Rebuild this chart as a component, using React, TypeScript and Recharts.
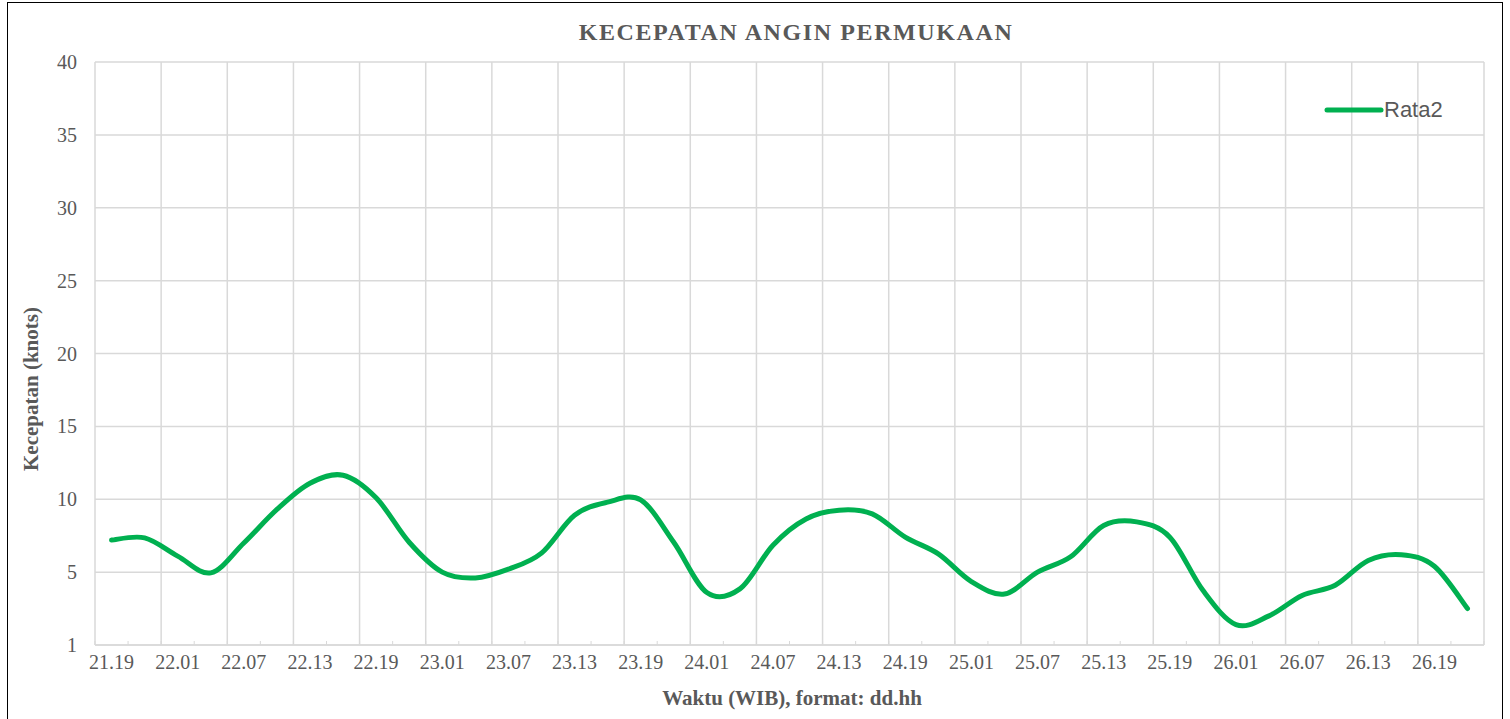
import React from 'react';
import {
  LineChart,
  Line,
  XAxis,
  YAxis,
  CartesianGrid,
  Legend,
} from 'recharts';

// ============================================================================
// Data
// ============================================================================

// time stamps every 3 hours, format dd.hh
const times = [
  '21.19', '21.22',
  '22.01', '22.04', '22.07', '22.10', '22.13', '22.16', '22.19', '22.22',
  '23.01', '23.04', '23.07', '23.10', '23.13', '23.16', '23.19', '23.22',
  '24.01', '24.04', '24.07', '24.10', '24.13', '24.16', '24.19', '24.22',
  '25.01', '25.04', '25.07', '25.10', '25.13', '25.16', '25.19', '25.22',
  '26.01', '26.04', '26.07', '26.10', '26.13', '26.16', '26.19', '26.22',
];

// Rata2 (knots)
const rata2 = [
  7.2, 7.35,
  6.1, 4.95, 7.0, 9.3, 11.1, 11.65, 10.1, 7.05,
  5.0, 4.6, 5.2, 6.3, 8.9, 9.8, 9.95, 7.05,
  3.6, 3.85, 6.85, 8.65, 9.25, 9.0, 7.4, 6.25,
  4.35, 3.5, 5.0, 6.05, 8.2, 8.45, 7.4, 3.75,
  1.4, 2.0, 3.4, 4.1, 5.8, 6.2, 5.4, 2.5,
];

const yTicks = [0, 5, 10, 15, 20, 25, 30, 35, 40];

// ============================================================================
// Constants
// ============================================================================

const SERIF = '"Liberation Serif", "Times New Roman", serif';
const SANS = '"Liberation Sans", Arial, sans-serif';
const TEXT = '#595959';
const GRID = '#d9d9d9';
const GREEN = '#00b050';

// category boundaries (tick marks) and centres (data points)
const boundaries = Array.from({ length: times.length + 1 }, (_, k) => k);
const data = times.map((time, i) => ({ time, pos: i + 0.5, rata2: rata2[i] }));

// ============================================================================
// Excel-like smoothed line (Catmull-Rom through every point)
// ============================================================================

function excelSmooth(context: any) {
  let pts: [number, number][] = [];
  return {
    areaStart() {},
    areaEnd() {},
    lineStart() {
      pts = [];
    },
    lineEnd() {
      const n = pts.length;
      if (!n) return;
      context.moveTo(pts[0][0], pts[0][1]);
      for (let i = 0; i < n - 1; i++) {
        const p0 = pts[Math.max(i - 1, 0)];
        const p1 = pts[i];
        const p2 = pts[i + 1];
        const p3 = pts[Math.min(i + 2, n - 1)];
        context.bezierCurveTo(
          p1[0] + (p2[0] - p0[0]) / 6,
          p1[1] + (p2[1] - p0[1]) / 6,
          p2[0] - (p3[0] - p1[0]) / 6,
          p2[1] - (p3[1] - p1[1]) / 6,
          p2[0],
          p2[1],
        );
      }
    },
    point(x: number, y: number) {
      pts.push([+x, +y]);
    },
  };
}

// ============================================================================
// Axis tick: small inside tick at every boundary, label every 6 hours
// ============================================================================

function TimeTick(props: any) {
  const { x, y, payload, width } = props;
  const k = payload.value as number;
  const step = width / times.length;
  const label = k % 2 === 0 && k < times.length ? times[k] : null;
  return (
    <g>
      <line x1={x} y1={y - 4} x2={x} y2={y} stroke={GRID} strokeWidth={1} />
      {label && (
        <text
          x={x + step / 2}
          y={y + 24}
          textAnchor="middle"
          fill={TEXT}
          fontSize={20}
          fontFamily={SERIF}
        >
          {label}
        </text>
      )}
    </g>
  );
}

function LegendContent() {
  return (
    <div style={{ display: 'flex', alignItems: 'center' }}>
      <svg width={60} height={10}>
        <line x1={3} y1={5} x2={57} y2={5} stroke={GREEN} strokeWidth={5} strokeLinecap="round" />
      </svg>
      <span style={{ fontFamily: SANS, fontSize: 22, color: TEXT }}>Rata2</span>
    </div>
  );
}

// ============================================================================
// Main Component
// ============================================================================

export default function App() {
  return (
    <div
      style={{
        position: 'absolute',
        left: 0,
        top: 0,
        width: 1510,
        height: 719,
        overflow: 'hidden',
        background: '#fff',
      }}
    >
      <div
        style={{
          position: 'absolute',
          left: 7,
          top: 2,
          width: 1494,
          height: 730,
          border: '1px solid #000',
        }}
      />
      <div
        style={{
          position: 'absolute',
          left: 796,
          top: 19,
          transform: 'translateX(-50%)',
          whiteSpace: 'nowrap',
          fontFamily: SERIF,
          fontWeight: 'bold',
          fontSize: 24,
          letterSpacing: 1.6,
          color: TEXT,
        }}
      >
        KECEPATAN ANGIN PERMUKAAN
      </div>
      <div
        style={{
          position: 'absolute',
          left: 792,
          top: 686,
          transform: 'translateX(-50%)',
          whiteSpace: 'nowrap',
          fontFamily: SERIF,
          fontWeight: 'bold',
          fontSize: 21,
          color: TEXT,
        }}
      >
        Waktu (WIB), format: dd.hh
      </div>
      <div
        style={{
          position: 'absolute',
          left: 31,
          top: 389,
          transform: 'translate(-50%, -50%) rotate(-90deg)',
          whiteSpace: 'nowrap',
          fontFamily: SERIF,
          fontWeight: 'bold',
          fontSize: 21,
          color: TEXT,
        }}
      >
        Kecepatan (knots)
      </div>

      <LineChart
        width={1510}
        height={719}
        data={data}
        margin={{ top: 62, right: 26, bottom: 0, left: 0 }}
        style={{ position: 'absolute', left: 0, top: 0 }}
      >
        <CartesianGrid
          stroke={GRID}
          strokeWidth={1.5}
          verticalCoordinatesGenerator={({ offset }: any) =>
            boundaries
              .filter((k) => k % 2 === 0)
              .map((k) => offset.left + (k * offset.width) / times.length)
          }
        />
        <XAxis
          dataKey="pos"
          type="number"
          domain={[0, times.length]}
          allowDataOverflow
          ticks={boundaries}
          interval={0}
          height={74}
          tickSize={0}
          tickMargin={0}
          tickLine={false}
          axisLine={{ stroke: GRID, strokeWidth: 1.5 }}
          tick={<TimeTick />}
        />
        <YAxis
          domain={[0, 40]}
          ticks={yTicks}
          interval={0}
          width={95}
          tickSize={0}
          tickMargin={18}
          tickLine={false}
          axisLine={false}
          tickFormatter={(v: number) => (v === 0 ? '1' : String(v))}
          tick={{ fill: TEXT, fontSize: 20, fontFamily: SERIF }}
        />
        <Legend
          layout="horizontal"
          verticalAlign="middle"
          align="center"
          content={<LegendContent />}
          wrapperStyle={{ top: 97, left: 1324, width: 160 }}
        />
        <Line
          dataKey="rata2"
          name="Rata2"
          type={excelSmooth as any}
          stroke={GREEN}
          strokeWidth={5}
          strokeLinecap="round"
          dot={false}
          activeDot={false}
          isAnimationActive={false}
        />
      </LineChart>
    </div>
  );
}
